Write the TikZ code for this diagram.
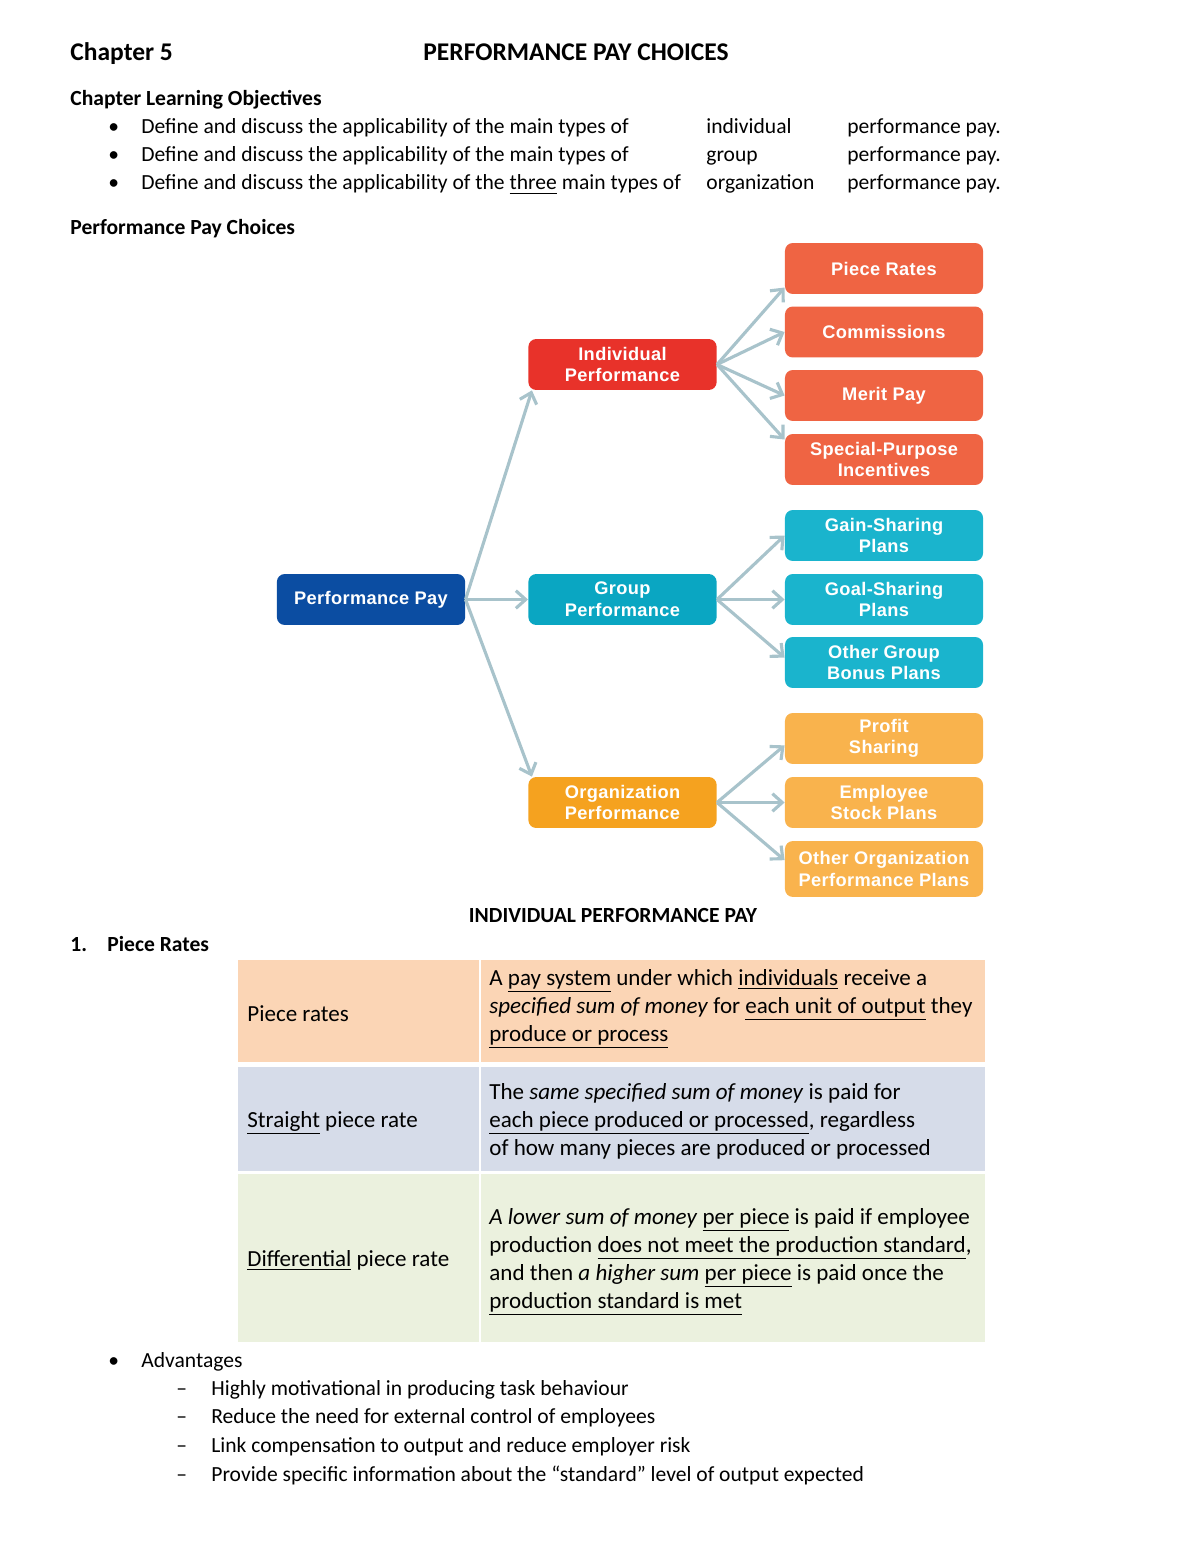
\documentclass[tikz,border=0pt]{standalone}
\usepackage{fontspec}
\setmainfont{Carlito}
\newfontfamily\boxfont[LetterSpace=2]{Liberation Sans}
\usetikzlibrary{arrows.meta}
\newcommand{\undl}[1]{\underline{#1}}
\definecolor{payblue}{HTML}{0B4DA2}
\definecolor{indred}{HTML}{E8322A}
\definecolor{indleaf}{HTML}{EF6443}
\definecolor{grpteal}{HTML}{0AA6C2}
\definecolor{grpleaf}{HTML}{1AB4CD}
\definecolor{orgorange}{HTML}{F5A21F}
\definecolor{orgleaf}{HTML}{F9B34D}
\definecolor{linkgray}{HTML}{A8C3CB}
\definecolor{rowpeach}{HTML}{FBD5B5}
\definecolor{rowblue}{HTML}{D6DCE9}
\definecolor{rowgreen}{HTML}{EBF1DE}
\tikzstyle{box}=[rectangle, rounded corners=4pt, text=white, align=center, inner sep=1pt, font=\boxfont\bfseries\fontsize{9.3}{11}\selectfont]
\tikzstyle{midbox}=[box, minimum width=96pt, minimum height=26pt]
\tikzstyle{leafbox}=[box, minimum width=101pt, minimum height=26pt]
\tikzstyle{link}=[line width=1.6pt, color=linkgray, -{Straight Barb[length=5pt,width=9pt]}]
\tikzstyle{txt}=[anchor=base west, inner sep=0pt, font=\fontsize{11}{13}\selectfont]
\tikzstyle{bigtxt}=[txt, font=\fontsize{11.75}{14}\selectfont]
\tikzstyle{head}=[txt, font=\fontsize{11}{13}\selectfont\bfseries]

\begin{document}
\begin{tikzpicture}[x=0.51pt, y=-0.51pt]
    \useasboundingbox (0,0) rectangle (1200,1553);

    % page heading
    \node[head, font=\fontsize{13}{15}\selectfont\bfseries] (chap) at (70,61) {Chapter 5};
    \node[anchor=base, inner sep=0pt, font=\fontsize{13}{15}\selectfont\bfseries] (title) at (576,61) {PERFORMANCE PAY CHOICES};
    \node[head] (objhead) at (70,106) {Chapter Learning Objectives};

    % objectives, one line each
    \foreach \i/\yy/\kind/\what in {1/134/individual/{the main types of}, 2/162/group/{the main types of}, 3/190/organization/{the \undl{three} main types of}}{
      \node[txt] (bul\i) at (108,\yy) {•};
      \node[txt] (obj\i) at (141,\yy) {Define and discuss the applicability of \what};
      \node[txt] (kind\i) at (706,\yy) {\kind};
      \node[txt] (ppay\i) at (847,\yy) {performance pay.};
    }
    \node[head] (choices) at (70,235) {Performance Pay Choices};

    % the tree
    \node[midbox, fill=payblue] (pay) at (371,599.5) {Performance Pay};
    \node[midbox, fill=indred] (ind) at (622.5,364.5) {Individual\\Performance};
    \node[midbox, fill=grpteal] (grp) at (622.5,599.5) {Group\\Performance};
    \node[midbox, fill=orgorange] (org) at (622.5,802.5) {Organization\\Performance};

    \foreach \n/\yy/\lbl in {pr/268.5/Piece Rates, com/332/Commissions, mer/395.5/Merit Pay, spi/459.5/{Special-Purpose\\Incentives}}
    \node[leafbox, fill=indleaf] (\n) at (884,\yy) {\lbl};
    \foreach \n/\yy/\lbl in {gain/535.5/{Gain-Sharing\\Plans}, goal/599.5/{Goal-Sharing\\Plans}, ogb/662.5/{Other Group\\Bonus Plans}}
    \node[leafbox, fill=grpleaf] (\n) at (884,\yy) {\lbl};
    \foreach \n/\yy/\lbl in {prof/738.5/{Profit\\Sharing}, esp/802.5/{Employee\\Stock Plans}}
    \node[leafbox, fill=orgleaf] (\n) at (884,\yy) {\lbl};
    \node[leafbox, fill=orgleaf, minimum height=28.5pt] (oop) at (884,869) {Other Organization\\Performance Plans};

    % arrows
    \draw[link] (pay.east) -- ([xshift=2pt]ind.south west);
    \draw[link] (pay.east) -- (grp.west);
    \draw[link] (pay.east) -- ([xshift=2pt]org.north west);

    \draw[link] (ind.east) -- ([yshift=3.5pt]pr.south west);
    \draw[link] (ind.east) -- (com.west);
    \draw[link] (ind.east) -- (mer.west);
    \draw[link] (ind.east) -- ([yshift=-3pt]spi.north west);

    \draw[link] (grp.east) -- (gain.west);
    \draw[link] (grp.east) -- (goal.west);
    \draw[link] (grp.east) -- ([yshift=2.5pt]ogb.west);

    \draw[link] (org.east) -- ([yshift=-3.5pt]prof.west);
    \draw[link] (org.east) -- (esp.west);
    \draw[link] (org.east) -- ([yshift=4.5pt]oop.west);

    % section below the tree
    \node[anchor=base, inner sep=0pt, font=\fontsize{11}{13}\selectfont\bfseries] (indhead) at (613,922) {INDIVIDUAL PERFORMANCE PAY};
    \node[head] (num1) at (70,951) {1.};
    \node[head] (piecehead) at (107,951) {Piece Rates};

    % table rows
    \fill[rowpeach] (238,960) rectangle (985,1062);
    \fill[rowblue] (238,1067) rectangle (985,1171);
    \fill[rowgreen] (238,1174) rectangle (985,1342);
    \draw[white, line width=0.8pt] (480,960) -- (480,1342);

    \node[bigtxt] (term1) at (247,1021) {Piece rates};
    \node[bigtxt] (def1a) at (489,985) {A \undl{pay system} under which \undl{individuals} receive a};
    \node[bigtxt] (def1b) at (489,1013) {\emph{specified sum of money} for \undl{each unit of output} they};
    \node[bigtxt] (def1c) at (489,1041) {\undl{produce or process}};

    \node[bigtxt] (term2) at (247,1127) {\undl{Straight} piece rate};
    \node[bigtxt] (def2a) at (489,1099) {The \emph{same specified sum of money} is paid for};
    \node[bigtxt] (def2b) at (489,1127) {\undl{each piece produced or processed}, regardless};
    \node[bigtxt] (def2c) at (489,1155) {of how many pieces are produced or processed};

    \node[bigtxt] (term3) at (247,1266) {\undl{Differential} piece rate};
    \node[bigtxt] (def3a) at (489,1224) {\emph{A lower sum of money} \undl{per piece} is paid if employee};
    \node[bigtxt] (def3b) at (489,1252) {production \undl{does not meet the production standard},};
    \node[bigtxt] (def3c) at (489,1280) {and then \emph{a higher sum} \undl{per piece} is paid once the};
    \node[bigtxt] (def3d) at (489,1308) {\undl{production standard is met}};

    % advantages
    \node[txt] (advbul) at (108,1367) {•};
    \node[txt] (adv) at (141,1367) {Advantages};
    \foreach \i/\yy/\txt in {1/1395/{Highly motivational in producing task behaviour}, 2/1423/{Reduce the need for external control of employees}, 3/1452/{Link compensation to output and reduce employer risk}, 4/1481/{Provide specific information about the “standard” level of output expected}}{
      \node[txt] (dash\i) at (176,\yy) {–};
      \node[txt] (adv\i) at (211,\yy) {\txt};
    }
\end{tikzpicture}
\end{document}
